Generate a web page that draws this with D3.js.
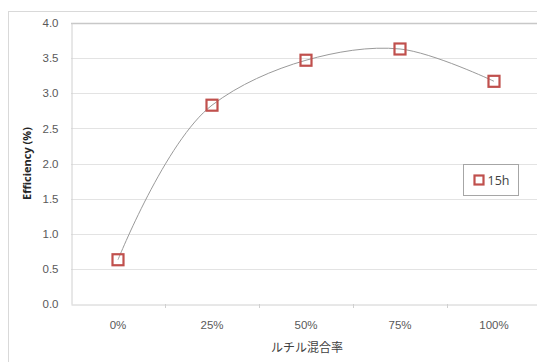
<!DOCTYPE html>
<html>
<head>
<meta charset="utf-8">
<script src="https://cdn.jsdelivr.net/npm/d3@7"></script>
<style>
  html, body { margin: 0; padding: 0; background: #fff; }
  svg { display: block; }
</style>
</head>
<body>
<script>
// Rutile mixing ratio vs. efficiency (15h)
const categories = ["0%", "25%", "50%", "75%", "100%"];
const efficiency = [0.63, 2.83, 3.47, 3.63, 3.17];
const yTicks = [0.0, 0.5, 1.0, 1.5, 2.0, 2.5, 3.0, 3.5, 4.0];
const seriesName = "15h";
const xTitle = "ルチル混合率";
const yTitle = "Efficiency (%)";

const W = 537, H = 362;
const plot = { left: 71, top: 23, right: 541, bottom: 304 };

const svg = d3.select("body").append("svg")
  .attr("width", W).attr("height", H)
  .style("font-family", "'Open Sans', 'Noto Sans', sans-serif");

// chart frame
svg.append("rect")
  .attr("x", 8.5).attr("y", 11.5)
  .attr("width", W + 20).attr("height", H + 20)
  .attr("fill", "#fff").attr("stroke", "#d9d9d9").attr("stroke-width", 1);

const x = d3.scaleBand().domain(categories)
  .range([plot.left, plot.right]).paddingInner(0).paddingOuter(0);
const y = d3.scaleLinear().domain([0, 4]).range([plot.bottom, plot.top]);

// gridlines
svg.append("g").selectAll("line").data(yTicks.slice(1)).join("line")
  .attr("x1", plot.left).attr("x2", plot.right)
  .attr("y1", d => Math.round(y(d)) + 0.5).attr("y2", d => Math.round(y(d)) + 0.5)
  .attr("stroke", d => d === 4 ? "#c8c8c8" : "#e3e3e3")
  .attr("stroke-width", d => d === 4 ? 1.5 : 1);

// y axis
const yAxis = svg.append("g")
  .attr("transform", `translate(${plot.left + 0.5},0)`)
  .call(d3.axisLeft(y).tickValues(yTicks).tickFormat(d3.format(".1f")).tickSize(0).tickPadding(13));
yAxis.select(".domain").attr("stroke", "#d0d0d0");
yAxis.selectAll("text").attr("fill", "#595959").style("font-size", "11.5px");

// x axis
const xAxis = svg.append("g")
  .attr("transform", `translate(0,${Math.round(plot.bottom) + 0.5})`)
  .call(d3.axisBottom(x).tickSize(0).tickPadding(16));
xAxis.select(".domain").attr("stroke", "#d0d0d0");
xAxis.selectAll("text").attr("fill", "#595959").style("font-size", "11.5px");
// tick marks between categories
svg.append("g").selectAll("line").data(categories.slice(1)).join("line")
  .attr("x1", d => Math.round(x(d)) + 0.5).attr("x2", d => Math.round(x(d)) + 0.5)
  .attr("y1", plot.bottom).attr("y2", plot.bottom + 4)
  .attr("stroke", "#d0d0d0");

// smoothed series line
const pts = categories.map((c, i) => [x(c) + x.bandwidth() / 2, y(efficiency[i])]);
svg.append("path")
  .attr("d", d3.line().curve(d3.curveCatmullRom.alpha(1))(pts))
  .attr("fill", "none").attr("stroke", "#9a9a9a").attr("stroke-width", 1);

// markers (no fill, line shows through)
const ms = 11;
svg.append("g").selectAll("rect").data(pts).join("rect")
  .attr("x", d => d[0] - ms / 2).attr("y", d => d[1] - ms / 2)
  .attr("width", ms).attr("height", ms)
  .attr("fill", "none")
  .attr("stroke", "#c0504d").attr("stroke-width", 2.2);

// axis titles
svg.append("text")
  .attr("transform", `translate(31,${(plot.top + plot.bottom) / 2}) rotate(-90)`)
  .attr("text-anchor", "middle")
  .attr("fill", "#262626").style("font-size", "11px").style("font-weight", "bold")
  .text(yTitle);
svg.append("text")
  .attr("x", 307).attr("y", 352)
  .attr("text-anchor", "middle")
  .attr("fill", "#404040").style("font-size", "12px")
  .style("font-family", "'Noto Sans CJK JP', sans-serif")
  .text(xTitle);

// legend
const lg = svg.append("g").attr("transform", "translate(463.5,164.5)");
lg.append("rect").attr("width", 55).attr("height", 31)
  .attr("fill", "#fff").attr("stroke", "#a6a6a6");
lg.append("rect").attr("x", 11).attr("y", 11).attr("width", 9).attr("height", 9)
  .attr("fill", "none").attr("stroke", "#c0504d").attr("stroke-width", 2.2);
lg.append("text").attr("x", 24).attr("y", 20.5)
  .attr("fill", "#404040").style("font-size", "12.5px").text(seriesName);
</script>
</body>
</html>
